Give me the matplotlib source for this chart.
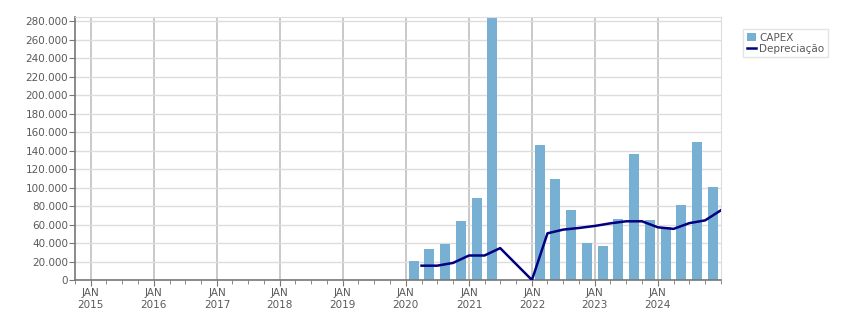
import numpy as np
import pandas as pd
import matplotlib
matplotlib.use("Agg")
import matplotlib.pyplot as plt
import matplotlib.dates as mdates
from matplotlib.ticker import FuncFormatter

# CAPEX by quarter (bars sit in the middle of the quarter)
capex_quarters = ["2020Q1", "2020Q2", "2020Q3", "2020Q4",
                  "2021Q1", "2021Q2",
                  "2022Q1", "2022Q2", "2022Q3", "2022Q4",
                  "2023Q1", "2023Q2", "2023Q3", "2023Q4",
                  "2024Q1", "2024Q2", "2024Q3", "2024Q4"]
capex_values = [21000, 33000, 38500, 63500,
                88500, 292000,
                146500, 109500, 76000, 40500,
                37000, 66500, 136500, 64500,
                57000, 81500, 149500, 101000]

# Depreciation points (at quarter boundaries)
dep_dates = ["2020-04-01", "2020-07-01", "2020-10-01", "2021-01-01",
             "2021-04-01", "2021-07-01", "2021-10-01", "2022-01-01",
             "2022-04-01", "2022-07-01", "2022-10-01", "2023-01-01",
             "2023-04-01", "2023-07-01", "2023-10-01", "2024-01-01",
             "2024-04-01", "2024-07-01", "2024-10-01", "2025-01-01"]
dep_values = [15500, 15500, 18500, 26500,
              26500, 34500, 17200, 0,
              50500, 54500, 56300, 58500,
              61300, 63500, 63500, 57000,
              55300, 61500, 64500, 75500]

years = list(range(2015, 2025))

bar_color = "#78b0d3"
line_color = "#000080"
text_color = "#5a5a5a"

fig = plt.figure(figsize=(8.51, 3.13), dpi=100)
ax = fig.add_axes([75 / 851, 1 - 280 / 313, (721 - 75) / 851, (280 - 17) / 313])

bar_x = [pd.Period(q, freq="Q").start_time + pd.Timedelta(days=45) for q in capex_quarters]
bars = ax.bar(bar_x, capex_values, width=58, color=bar_color, label="CAPEX", zorder=2)
line, = ax.plot(pd.to_datetime(dep_dates), dep_values, color=line_color, lw=1.8,
                label="Depreciação", zorder=3)

ax.set_xlim(pd.Timestamp("2014-10-01"), pd.Timestamp("2025-01-01"))
ax.set_ylim(0, 284500)

# y axis
ax.set_yticks(np.arange(0, 280001, 20000))
ax.yaxis.set_major_formatter(FuncFormatter(lambda v, p: f"{int(v):,}".replace(",", ".")))
ax.grid(axis="y", color="#dddddd", lw=1, zorder=0)

# x axis: year ticks + quarter minor ticks
ax.set_xticks([pd.Timestamp(f"{y}-01-01") for y in years])
ax.set_xticklabels([f"JAN\n{y}" for y in years])
ax.xaxis.set_minor_locator(mdates.MonthLocator(bymonth=[1, 4, 7, 10]))
ax.grid(axis="x", which="major", color="#c0c0c0", lw=1.2, zorder=0)

ax.tick_params(axis="both", which="major", labelsize=7.5, colors="#777777",
               labelcolor=text_color, length=4)
ax.tick_params(axis="x", which="minor", length=3, colors="#777777")
ax.tick_params(axis="y", pad=1)
ax.tick_params(axis="x", pad=2)

for side in ["top", "right"]:
    ax.spines[side].set_color("#dddddd")
for side in ["left", "bottom"]:
    ax.spines[side].set_color("#777777")
    ax.spines[side].set_linewidth(1.2)

leg = fig.legend([bars, line], ["CAPEX", "Depreciação"], loc="upper left",
                 bbox_to_anchor=(743 / 851, 1 - 29 / 313),
                 fontsize=7.5, frameon=True, fancybox=False, handlelength=0.9,
                 handleheight=0.9, handletextpad=0.3, borderpad=0.35,
                 labelspacing=0.1, borderaxespad=0)
leg.get_frame().set_edgecolor("#dddddd")
for t in leg.get_texts():
    t.set_color(text_color)

fig.savefig("out.png", dpi=100)
